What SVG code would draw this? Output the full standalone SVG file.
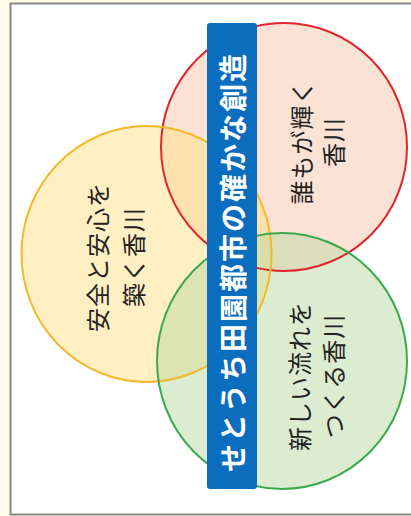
<svg xmlns="http://www.w3.org/2000/svg" width="411" height="516" viewBox="0 0 411 516">
<style>
.lbl{font-family:"Noto Sans CJK JP","Noto Sans CJK SC",sans-serif;font-size:24px;fill:#222;text-anchor:middle;dominant-baseline:central;letter-spacing:1px}
.title{font-family:"Noto Sans CJK JP","Noto Sans CJK SC",sans-serif;font-size:28px;font-weight:bold;fill:#fff;text-anchor:middle;dominant-baseline:central;letter-spacing:2px}
</style>
<rect x="0" y="0" width="411" height="516" fill="#fffde8"/>
<rect x="10.5" y="3.5" width="410" height="511" fill="#fff" stroke="#8a8a8a" stroke-width="2"/>
<g id="fills">
<ellipse cx="284" cy="147" rx="123" ry="124" fill="#f7c6ab" fill-opacity="0.5"/>
<ellipse cx="146.5" cy="254" rx="125" ry="128" fill="#ffdf85" fill-opacity="0.5"/>
<ellipse cx="282" cy="361" rx="125" ry="128" fill="#b9daa2" fill-opacity="0.5"/>
</g>
<g id="strokes" fill="none" stroke-width="2">
<ellipse cx="284" cy="147" rx="123" ry="124" stroke="#e0252d"/>
<ellipse cx="146.5" cy="254" rx="125" ry="128" stroke="#f3b92c"/>
<ellipse cx="282" cy="361" rx="125" ry="128" stroke="#3aa94e"/>
</g>
<g id="node-safe" transform="translate(114,257) rotate(-90)">
<text class="lbl" x="0" y="-18">安全と安心を</text>
<text class="lbl" x="0" y="18">築く香川</text>
</g>
<g id="node-shine" transform="translate(316,142) rotate(-90)">
<text class="lbl" x="0" y="-16">誰もが輝く</text>
<text class="lbl" x="0" y="16">香川</text>
</g>
<g id="node-flow" transform="translate(315,376) rotate(-90)">
<text class="lbl" x="0" y="-17">新しい流れを</text>
<text class="lbl" x="0" y="17">つくる香川</text>
</g>
<g id="node-title">
<rect x="207" y="23" width="50" height="466" rx="3" fill="#0b6dbd"/>
<text class="title" transform="translate(232,262) rotate(-90)" x="0" y="0">せとうち田園都市の確かな創造</text>
</g>
</svg>
